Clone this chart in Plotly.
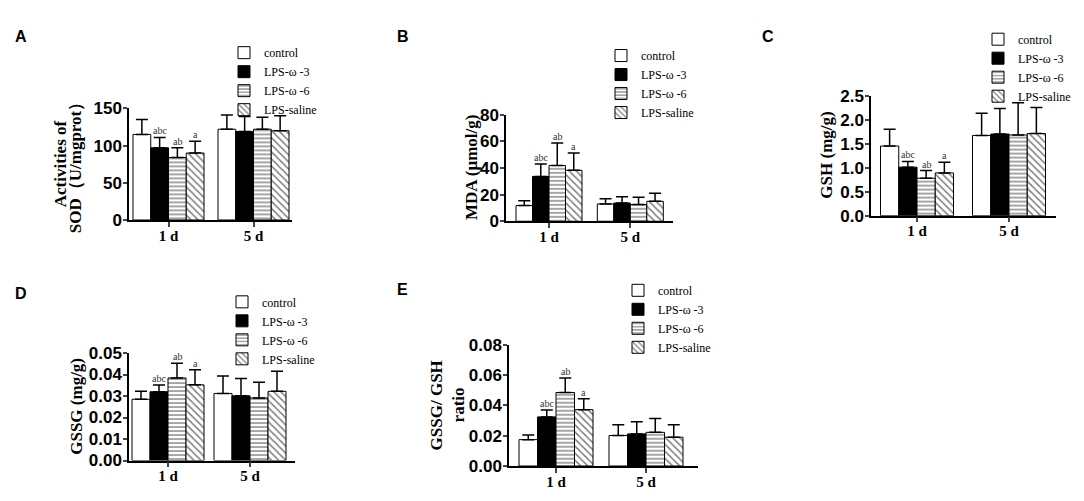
import plotly.graph_objects as go

W, H = 1084, 501

groups = ['control', 'LPS-ω -3', 'LPS-ω -6', 'LPS-saline']
days = ['1 d', '5 d']
sig_1d = ['', 'abc', 'ab', 'a']

# SOD (U/mgprot)
sod_1d = [115, 97, 84, 90]
sod_1d_sd = [20, 14, 13, 16]
sod_5d = [122, 119, 122, 120]
sod_5d_sd = [19, 20, 16, 20]

# MDA (umol/g)
mda_1d = [11.8, 33.7, 41.9, 38.3]
mda_1d_sd = [3.6, 9.3, 16.9, 13.0]
mda_5d = [13.0, 13.7, 12.5, 15.0]
mda_5d_sd = [4.0, 4.8, 5.5, 6.0]

# GSH (mg/g)
gsh_1d = [1.45, 1.01, 0.78, 0.89]
gsh_1d_sd = [0.35, 0.12, 0.16, 0.22]
gsh_5d = [1.67, 1.70, 1.68, 1.71]
gsh_5d_sd = [0.46, 0.53, 0.67, 0.54]

# GSSG (mg/g)
gssg_1d = [0.0285, 0.0320, 0.0384, 0.0352]
gssg_1d_sd = [0.0037, 0.0031, 0.0068, 0.0070]
gssg_5d = [0.0312, 0.0301, 0.0291, 0.0322]
gssg_5d_sd = [0.0081, 0.0081, 0.0073, 0.0093]

# GSSG/GSH ratio
ratio_1d = [0.0174, 0.0324, 0.0485, 0.0372]
ratio_1d_sd = [0.0031, 0.0046, 0.0095, 0.0072]
ratio_5d = [0.0201, 0.0212, 0.0222, 0.0190]
ratio_5d_sd = [0.0072, 0.0080, 0.0091, 0.0083]

# layout of each panel in pixels: axis left, group centres, axis right, top, bottom,
# legend corner, panel letter, y-title line positions
panels = [
    dict(letter='A', d1=sod_1d, s1=sod_1d_sd, d5=sod_5d, s5=sod_5d_sd,
         title=['Activities of', 'SOD（U/mgprot）'], tx=[52, 67], yr=[0, 150], dt=50, fmt='',
         x0=121, c1=160.5, c2=245.5, x1=284, yt=95, yb=211, gw=71,
         lx=216, ly=22, px=5, py=20),
    dict(letter='B', d1=mda_1d, s1=mda_1d_sd, d5=mda_5d, s5=mda_5d_sd,
         title=['MDA (μmol/g)'], tx=[463], yr=[0, 80], dt=20, fmt='',
         x0=498, c1=541, c2=622.3, x1=665, yt=101.7, yb=212.3, gw=66,
         lx=593, ly=25, px=387, py=20),
    dict(letter='C', d1=gsh_1d, s1=gsh_1d_sd, d5=gsh_5d, s5=gsh_5d_sd,
         title=['GSH (mg/g)'], tx=[819], yr=[0, 2.5], dt=0.5, fmt='.1f',
         x0=863, c1=909, c2=1001, x1=1048, yt=81.7, yb=206.5, gw=73,
         lx=970, ly=8, px=752, py=20),
    dict(letter='D', d1=gssg_1d, s1=gssg_1d_sd, d5=gssg_5d, s5=gssg_5d_sd,
         title=['GSSG (mg/g)'], tx=[69], yr=[0, 0.05], dt=0.01, fmt='.2f',
         x0=121, c1=160, c2=242, x1=287, yt=349.3, yb=461, gw=72,
         lx=214, ly=281, px=5, py=287),
    dict(letter='E', d1=ratio_1d, s1=ratio_1d_sd, d5=ratio_5d, s5=ratio_5d_sd,
         title=['GSSG/ GSH', 'ratio'], tx=[428, 450], yr=[0, 0.08], dt=0.02, fmt='.2f',
         x0=501, c1=548, c2=638, x1=690, yt=340.7, yb=466.7, gw=74,
         lx=610, ly=269, px=387, py=283),
]

styles = [
    dict(marker_color='white', pattern=None),
    dict(marker_color='black', pattern=None),
    dict(marker_color='white', pattern=dict(shape='-', fgcolor='black', bgcolor='white', size=4, solidity=0.35)),
    dict(marker_color='white', pattern=dict(shape='\\', fgcolor='black', bgcolor='white', size=5, solidity=0.3)),
]

serif = 'Liberation Serif, Times New Roman, serif'
sans = 'Liberation Sans, Arial, sans-serif'

fig = go.Figure()
annotations = []

for k, p in enumerate(panels):
    n = '' if k == 0 else str(k + 1)
    leg = 'legend' if k == 0 else 'legend' + str(k + 1)
    sp = p['c2'] - p['c1']
    bw = p['gw'] / 4 / sp
    for i, g in enumerate(groups):
        st = styles[i]
        marker = dict(color=st['marker_color'], line=dict(color='black', width=1))
        if st['pattern']:
            marker['pattern'] = st['pattern']
        fig.add_trace(go.Bar(
            x=[0, 1], y=[p['d1'][i], p['d5'][i]], name=g,
            xaxis='x' + n, yaxis='y' + n, legend=leg,
            width=bw, offset=(i - 2) * bw,
            marker=marker,
            error_y=dict(type='data', symmetric=False,
                         array=[p['s1'][i], p['s5'][i]], arrayminus=[0, 0],
                         color='black', thickness=1.5, width=6),
        ))
        if sig_1d[i]:
            annotations.append(dict(
                x=(i - 1.5) * bw, y=p['d1'][i] + p['s1'][i],
                xref='x' + n, yref='y' + n, text=sig_1d[i], showarrow=False,
                yanchor='bottom', yshift=-1,
                font=dict(family=serif, size=10, color='#333')))

    rng = [(p['x0'] - p['c1']) / sp, (p['x1'] - p['c1']) / sp]
    nt = int(round((p['yr'][1] - p['yr'][0]) / p['dt']))
    tv = [p['yr'][0] + j * p['dt'] for j in range(nt + 1)]
    fig.update_layout(**{
        'xaxis' + n: dict(
            domain=[p['x0'] / W, p['x1'] / W], anchor='y' + n, range=rng,
            tickvals=[0, 1], ticktext=days, ticks='outside', ticklen=5,
            tickwidth=1.5, showline=True, linecolor='black', linewidth=1.5,
            showgrid=False, zeroline=False, fixedrange=True, ticklabelstandoff=-4,
            tickfont=dict(family=serif, size=15, color='black', weight='bold')),
        'yaxis' + n: dict(
            domain=[1 - p['yb'] / H, 1 - p['yt'] / H], anchor='x' + n,
            range=p['yr'], tickvals=tv, tickformat=p['fmt'],
            ticks='outside', ticklen=4, tickwidth=1.5, ticklabelstandoff=-2,
            showline=True, linecolor='black', linewidth=1.5,
            showgrid=False, zeroline=False,
            tickfont=dict(family=sans, size=17, color='black', weight='bold')),
        leg: dict(x=p['lx'] / W, y=1 - p['ly'] / H, xanchor='left', yanchor='top',
                  bgcolor='rgba(0,0,0,0)', font=dict(family=serif, size=12, color='black')),
    })
    ymid = 1 - (p['yt'] + p['yb']) / 2 / H
    for t, tx in zip(p['title'], p['tx']):
        annotations.append(dict(
            x=tx / W, y=ymid, xref='paper', yref='paper', text='<b>' + t + '</b>',
            textangle=-90, showarrow=False, xanchor='center', yanchor='middle',
            font=dict(family=serif, size=17, color='black')))
    annotations.append(dict(
        x=p['px'] / W, y=1 - p['py'] / H, xref='paper', yref='paper',
        text='<b>' + p['letter'] + '</b>', showarrow=False,
        xanchor='left', yanchor='middle',
        font=dict(family=sans, size=16, color='black')))

fig.update_layout(
    width=W, height=H, margin=dict(l=0, r=0, t=0, b=0),
    plot_bgcolor='white', paper_bgcolor='white',
    barmode='overlay', annotations=annotations,
)

fig.write_html('out.html')
